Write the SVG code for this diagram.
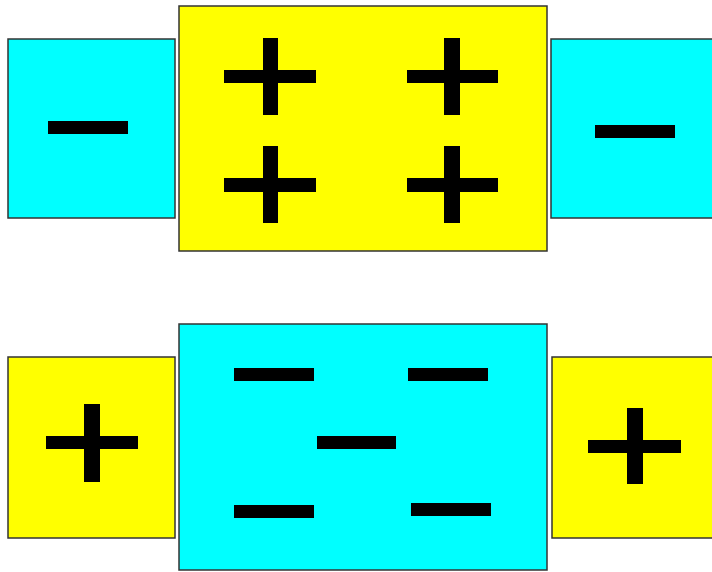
<svg xmlns="http://www.w3.org/2000/svg" width="712" height="572" viewBox="0 0 712 572">
<style>
.box{stroke:#333;stroke-width:1.5}
.cy{fill:#00ffff}
.ye{fill:#ffff00}
.sg{fill:#000}
</style>
<rect width="712" height="572" fill="#fff"/>
<g id="top-left">
<rect class="box cy" x="8" y="39" width="167" height="179"/>
<rect class="sg" x="48" y="121" width="80" height="13"/>
</g>
<g id="top-center">
<rect class="box ye" x="179" y="6" width="368" height="245"/>
<rect class="sg" x="224" y="70" width="92" height="13"/>
<rect class="sg" x="263" y="38" width="15" height="77"/>
<rect class="sg" x="224" y="178" width="92" height="14"/>
<rect class="sg" x="263" y="146" width="15" height="77"/>
<rect class="sg" x="407" y="70" width="91" height="13"/>
<rect class="sg" x="444" y="38" width="16" height="77"/>
<rect class="sg" x="407" y="178" width="91" height="14"/>
<rect class="sg" x="444" y="146" width="16" height="77"/>
</g>
<g id="top-right">
<rect class="box cy" x="551" y="39" width="170" height="179"/>
<rect class="sg" x="595" y="125" width="80" height="13"/>
</g>
<g id="bottom-left">
<rect class="box ye" x="8" y="357" width="167" height="181"/>
<rect class="sg" x="46" y="436" width="92" height="13"/>
<rect class="sg" x="84" y="404" width="16" height="78"/>
</g>
<g id="bottom-center">
<rect class="box cy" x="179" y="324" width="368" height="246"/>
<rect class="sg" x="234" y="368" width="80" height="13"/>
<rect class="sg" x="408" y="368" width="80" height="13"/>
<rect class="sg" x="317" y="436" width="79" height="13"/>
<rect class="sg" x="234" y="505" width="80" height="13"/>
<rect class="sg" x="411" y="503" width="80" height="13"/>
</g>
<g id="bottom-right">
<rect class="box ye" x="552" y="357" width="170" height="181"/>
<rect class="sg" x="588" y="440" width="93" height="13"/>
<rect class="sg" x="627" y="408" width="16" height="76"/>
</g>
<g id="connectors"/>
</svg>
